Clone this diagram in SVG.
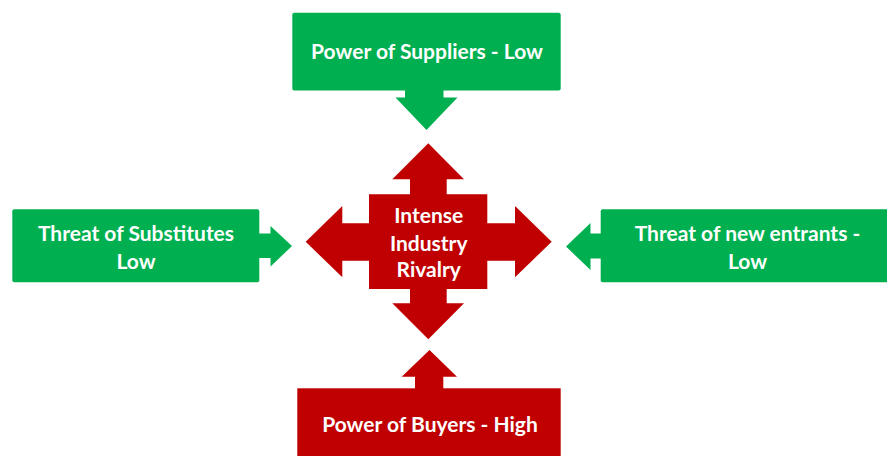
<svg xmlns="http://www.w3.org/2000/svg" width="887" height="456" viewBox="0 0 887 456">
  <style>
    .green { fill: #00B050; }
    .red { fill: #C00000; }
    .label { font-family: Lato, "Open Sans", "Liberation Sans", sans-serif; font-weight: bold; font-size: 21px; fill: #FFFFFF; text-anchor: middle; }
  </style>
  <rect width="887" height="456" fill="#FFFFFF"/>

  <!-- arrow pointers linking each force to the centre -->
  <g id="connectors">
    <path class="green" d="M405,89 V97.5 H395.5 L426.5,130 L457.5,97.5 H443.5 V89 Z"/>
    <path class="green" d="M258,233.5 H270.5 V226 L292,246 L270.5,266.5 V258 H258 Z"/>
    <path class="green" d="M602,233.5 H590.5 V223 L566,246.5 L590.5,270 V258.5 H602 Z"/>
    <path class="red" d="M415,389.5 V376.7 H401.7 L429.5,350 L457,376.7 H443.3 V389.5 Z"/>
  </g>

  <g id="suppliers">
    <rect class="green" x="292.3" y="12.7" width="268.4" height="77.8" rx="2"/>
    <text class="label" x="427" y="58.5">Power of Suppliers - Low</text>
  </g>

  <g id="substitutes">
    <rect class="green" x="12.3" y="209.3" width="247" height="73" rx="2"/>
    <text class="label" x="136" y="241">Threat of Substitutes</text>
    <text class="label" x="136" y="268.5">Low</text>
  </g>

  <g id="new-entrants">
    <rect class="green" x="600.7" y="209.3" width="294" height="73" rx="2"/>
    <text class="label" x="747.5" y="241">Threat of new entrants -</text>
    <text class="label" x="747.5" y="268.5">Low</text>
  </g>

  <g id="buyers">
    <rect class="red" x="297.3" y="388.3" width="263.4" height="74"/>
    <text class="label" x="430" y="432">Power of Buyers - High</text>
  </g>

  <g id="rivalry">
    <path class="red" d="M428.3,143.3 L464,179.3 H446.7 V194.3 H487.3 V223.3 H515 V206 L551.7,241.7 L515,277.3 V260.7 H487.3 V289 H446.7 V303.3 H464 L428.3,339.3 L392.3,303.3 H410 V289 H369 V260.7 H342.3 V277.3 L305.7,241.7 L342.3,206 V223.3 H369 V194.3 H410 V179.3 H392.3 Z"/>
    <text class="label" x="428.7" y="223">Intense</text>
    <text class="label" x="428.7" y="251">Industry</text>
    <text class="label" x="428.7" y="277">Rivalry</text>
  </g>
</svg>
